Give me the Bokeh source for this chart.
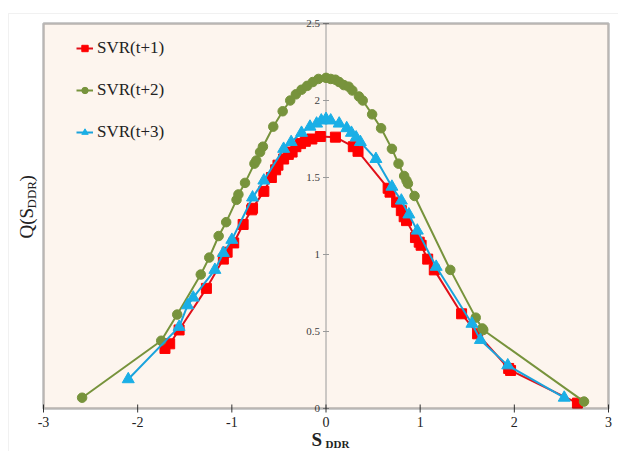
import math
from bokeh.plotting import figure
from bokeh.models import Range1d, Label, Legend, LegendItem, BoxAnnotation
from bokeh.core.properties import value
from bokeh.embed import file_html
from bokeh.resources import INLINE

# ---- data ----
t1_x = [-1.71, -1.66, -1.56, -1.27, -1.09, -1.05, -0.98, -0.88, -0.79, -0.78, -0.66, -0.58, -0.535, -0.51,
        -0.45, -0.40, -0.36, -0.32, -0.27, -0.22, -0.15, -0.06, 0.10, 0.29, 0.34, 0.66, 0.68, 0.75, 0.80,
        0.83, 0.855, 0.95, 0.99, 1.01, 1.08, 1.15, 1.44, 1.61, 1.94, 1.96, 2.67]
t1_y = [0.39, 0.42, 0.51, 0.78, 0.97, 1.015, 1.075, 1.195, 1.29, 1.30, 1.41, 1.50, 1.55, 1.58, 1.62, 1.65,
        1.665, 1.70, 1.72, 1.735, 1.75, 1.766, 1.762, 1.70, 1.67, 1.43, 1.405, 1.34, 1.285, 1.245, 1.22,
        1.11, 1.08, 1.06, 0.97, 0.90, 0.615, 0.485, 0.26, 0.247, 0.035]

t2_x = [-2.59, -1.75, -1.58, -1.33, -1.24, -1.14, -1.06, -0.95, -0.93, -0.86, -0.76, -0.74, -0.70, -0.67,
        -0.56, -0.46, -0.38, -0.32, -0.26, -0.20, -0.14, -0.08, 0.0, 0.05, 0.10, 0.14, 0.19, 0.24, 0.28,
        0.35, 0.39, 0.49, 0.585, 0.70, 0.77, 0.83, 0.855, 0.87, 0.94, 1.32, 1.59, 1.66, 1.67, 2.74]
t2_y = [0.07, 0.44, 0.61, 0.87, 0.98, 1.12, 1.21, 1.355, 1.39, 1.465, 1.59, 1.61, 1.665, 1.70, 1.83, 1.93,
        2.0, 2.04, 2.07, 2.095, 2.12, 2.14, 2.147, 2.14, 2.135, 2.12, 2.10, 2.09, 2.065, 2.026, 2.0, 1.91,
        1.82, 1.686, 1.59, 1.51, 1.48, 1.46, 1.38, 0.90, 0.59, 0.52, 0.51, 0.045]

t3_x = [-2.10, -1.56, -1.47, -1.41, -1.18, -1.09, -1.00, -0.78, -0.66, -0.45, -0.37, -0.26, -0.17, -0.10,
        -0.05, 0.0, 0.05, 0.14, 0.22, 0.27, 0.32, 0.365, 0.53, 0.70, 0.80, 0.88, 0.97, 1.17, 1.55, 1.64,
        1.93, 2.53]
t3_y = [0.19, 0.53, 0.67, 0.72, 0.90, 1.01, 1.095, 1.37, 1.48, 1.686, 1.73, 1.79, 1.83, 1.85, 1.87, 1.88,
        1.87, 1.85, 1.82, 1.79, 1.76, 1.73, 1.62, 1.44, 1.35, 1.26, 1.155, 0.92, 0.55, 0.445, 0.28, 0.07]

series_names = ["SVR(t+1)", "SVR(t+2)", "SVR(t+3)"]
x_ticks = [-3, -2, -1, 0, 1, 2, 3]
x_tick_labels = ["-3", "-2", "-1", "0", "1", "2", "3"]
y_ticks = [0, 0.5, 1, 1.5, 2, 2.5]
y_tick_labels = ["0", "0.5", "1", "1.5", "2", "2.5"]

# ---- layout (pixels of the 618x451 canvas) ----
W, H = 618, 451
PL, PR, PT, PB = 43, 608, 23, 408          # plot-area box in pixels
X0, X1, Y0, Y1 = -3, 3, 0, 2.5            # plot-area data extent


def dx(px):
    return X0 + (px - PL) * (X1 - X0) / (PR - PL)


def dy(py):
    return Y1 - (py - PT) * (Y1 - Y0) / (PB - PT)


SERIF = "Liberation Serif"

p = figure(width=W, height=H, output_backend="svg", toolbar_location=None,
           x_range=Range1d(dx(0), dx(W)), y_range=Range1d(dy(H), dy(0)),
           x_axis_location=None, y_axis_location=None, min_border=0)
p.outline_line_color = None
p.background_fill_color = "white"
p.border_fill_color = "white"
p.grid.visible = False

# outer light frame
p.add_layout(BoxAnnotation(left=dx(8), right=dx(W + 10), top=dy(13), bottom=dy(H + 10),
                           fill_alpha=0, line_color="#cfcfcf", line_width=1, level="underlay"))
# plot area
p.add_layout(BoxAnnotation(left=X0, right=X1, bottom=Y0, top=Y1, fill_color="#FDF5EE", fill_alpha=1,
                           line_color=None, level="underlay"))

# central y axis
p.segment(x0=[0], y0=[Y0], x1=[0], y1=[Y1], line_color="#9a9a9a", line_width=1)
p.scatter(x=[0] * len(y_ticks), y=y_ticks, marker="dash", size=6, line_color="#9a9a9a", line_width=1)
p.text(x=[0] * len(y_ticks), y=y_ticks, text=y_tick_labels, x_offset=-6, text_align="right",
       text_baseline="middle", text_font=value(SERIF), text_font_size="11px", text_color="#404040")

# x axis ticks and labels
p.scatter(x=x_ticks, y=[Y0] * len(x_ticks), marker="dash", angle=math.pi / 2, size=8,
          line_color="#333333", line_width=1)
p.text(x=x_ticks, y=[Y0] * len(x_ticks), text=x_tick_labels, y_offset=13, text_align="center",
       text_baseline="middle", text_font=value(SERIF), text_font_size="14px", text_color="#222222")

# series
r1l = p.line(t1_x, t1_y, line_color="#E0101A", line_width=2)
r1m = p.scatter(t1_x, t1_y, marker="square", size=10, fill_color="#FF0000", line_color="#FF0000")
r2l = p.line(t2_x, t2_y, line_color="#77933C", line_width=2)
r2m = p.scatter(t2_x, t2_y, marker="circle", size=9.5, fill_color="#77933C", line_color="#77933C")
r3l = p.line(t3_x, t3_y, line_color="#1AA3DC", line_width=2)
r3m = p.scatter(t3_x, t3_y, marker="triangle", size=12, fill_color="#1AAFE6", line_color="#1AAFE6")

# plot-area border on top
p.add_layout(BoxAnnotation(left=X0, right=X1, bottom=Y0, top=Y1, fill_alpha=0,
                           line_color="#1a1a1a", line_width=2.5))

legend = Legend(items=[LegendItem(label=series_names[0], renderers=[r1l, r1m]),
                       LegendItem(label=series_names[1], renderers=[r2l, r2m]),
                       LegendItem(label=series_names[2], renderers=[r3l, r3m])],
                location=(76, H - 42 - 100), padding=0, margin=0, spacing=22,
                glyph_width=17, glyph_height=16, label_height=16, label_standoff=4,
                label_text_font=SERIF, label_text_font_size="17px", label_text_color="#222222",
                background_fill_alpha=0, border_line_color=None)
p.add_layout(legend)

# axis titles (anchored at the middle of the text line)
ang = math.pi / 2
lab_kw = dict(text_color="#222222", text_align="left", text_baseline="middle")
p.add_layout(Label(x=dx(26), y=dy(238), text="Q(S", angle=ang, text_font=SERIF, text_font_size="19px", **lab_kw))
p.add_layout(Label(x=dx(31), y=dy(208), text="DDR", angle=ang, text_font=SERIF, text_font_size="13px", **lab_kw))
p.add_layout(Label(x=dx(26), y=dy(181), text=")", angle=ang, text_font=SERIF, text_font_size="19px", **lab_kw))
p.add_layout(Label(x=dx(311), y=dy(439), text="S", text_font=SERIF, text_font_size="19px",
                   text_font_style="bold", **lab_kw))
p.add_layout(Label(x=dx(325), y=dy(443), text="DDR", text_font=SERIF, text_font_size="11px",
                   text_font_style="bold", **lab_kw))

open("out.html", "w").write(file_html(p, INLINE))
